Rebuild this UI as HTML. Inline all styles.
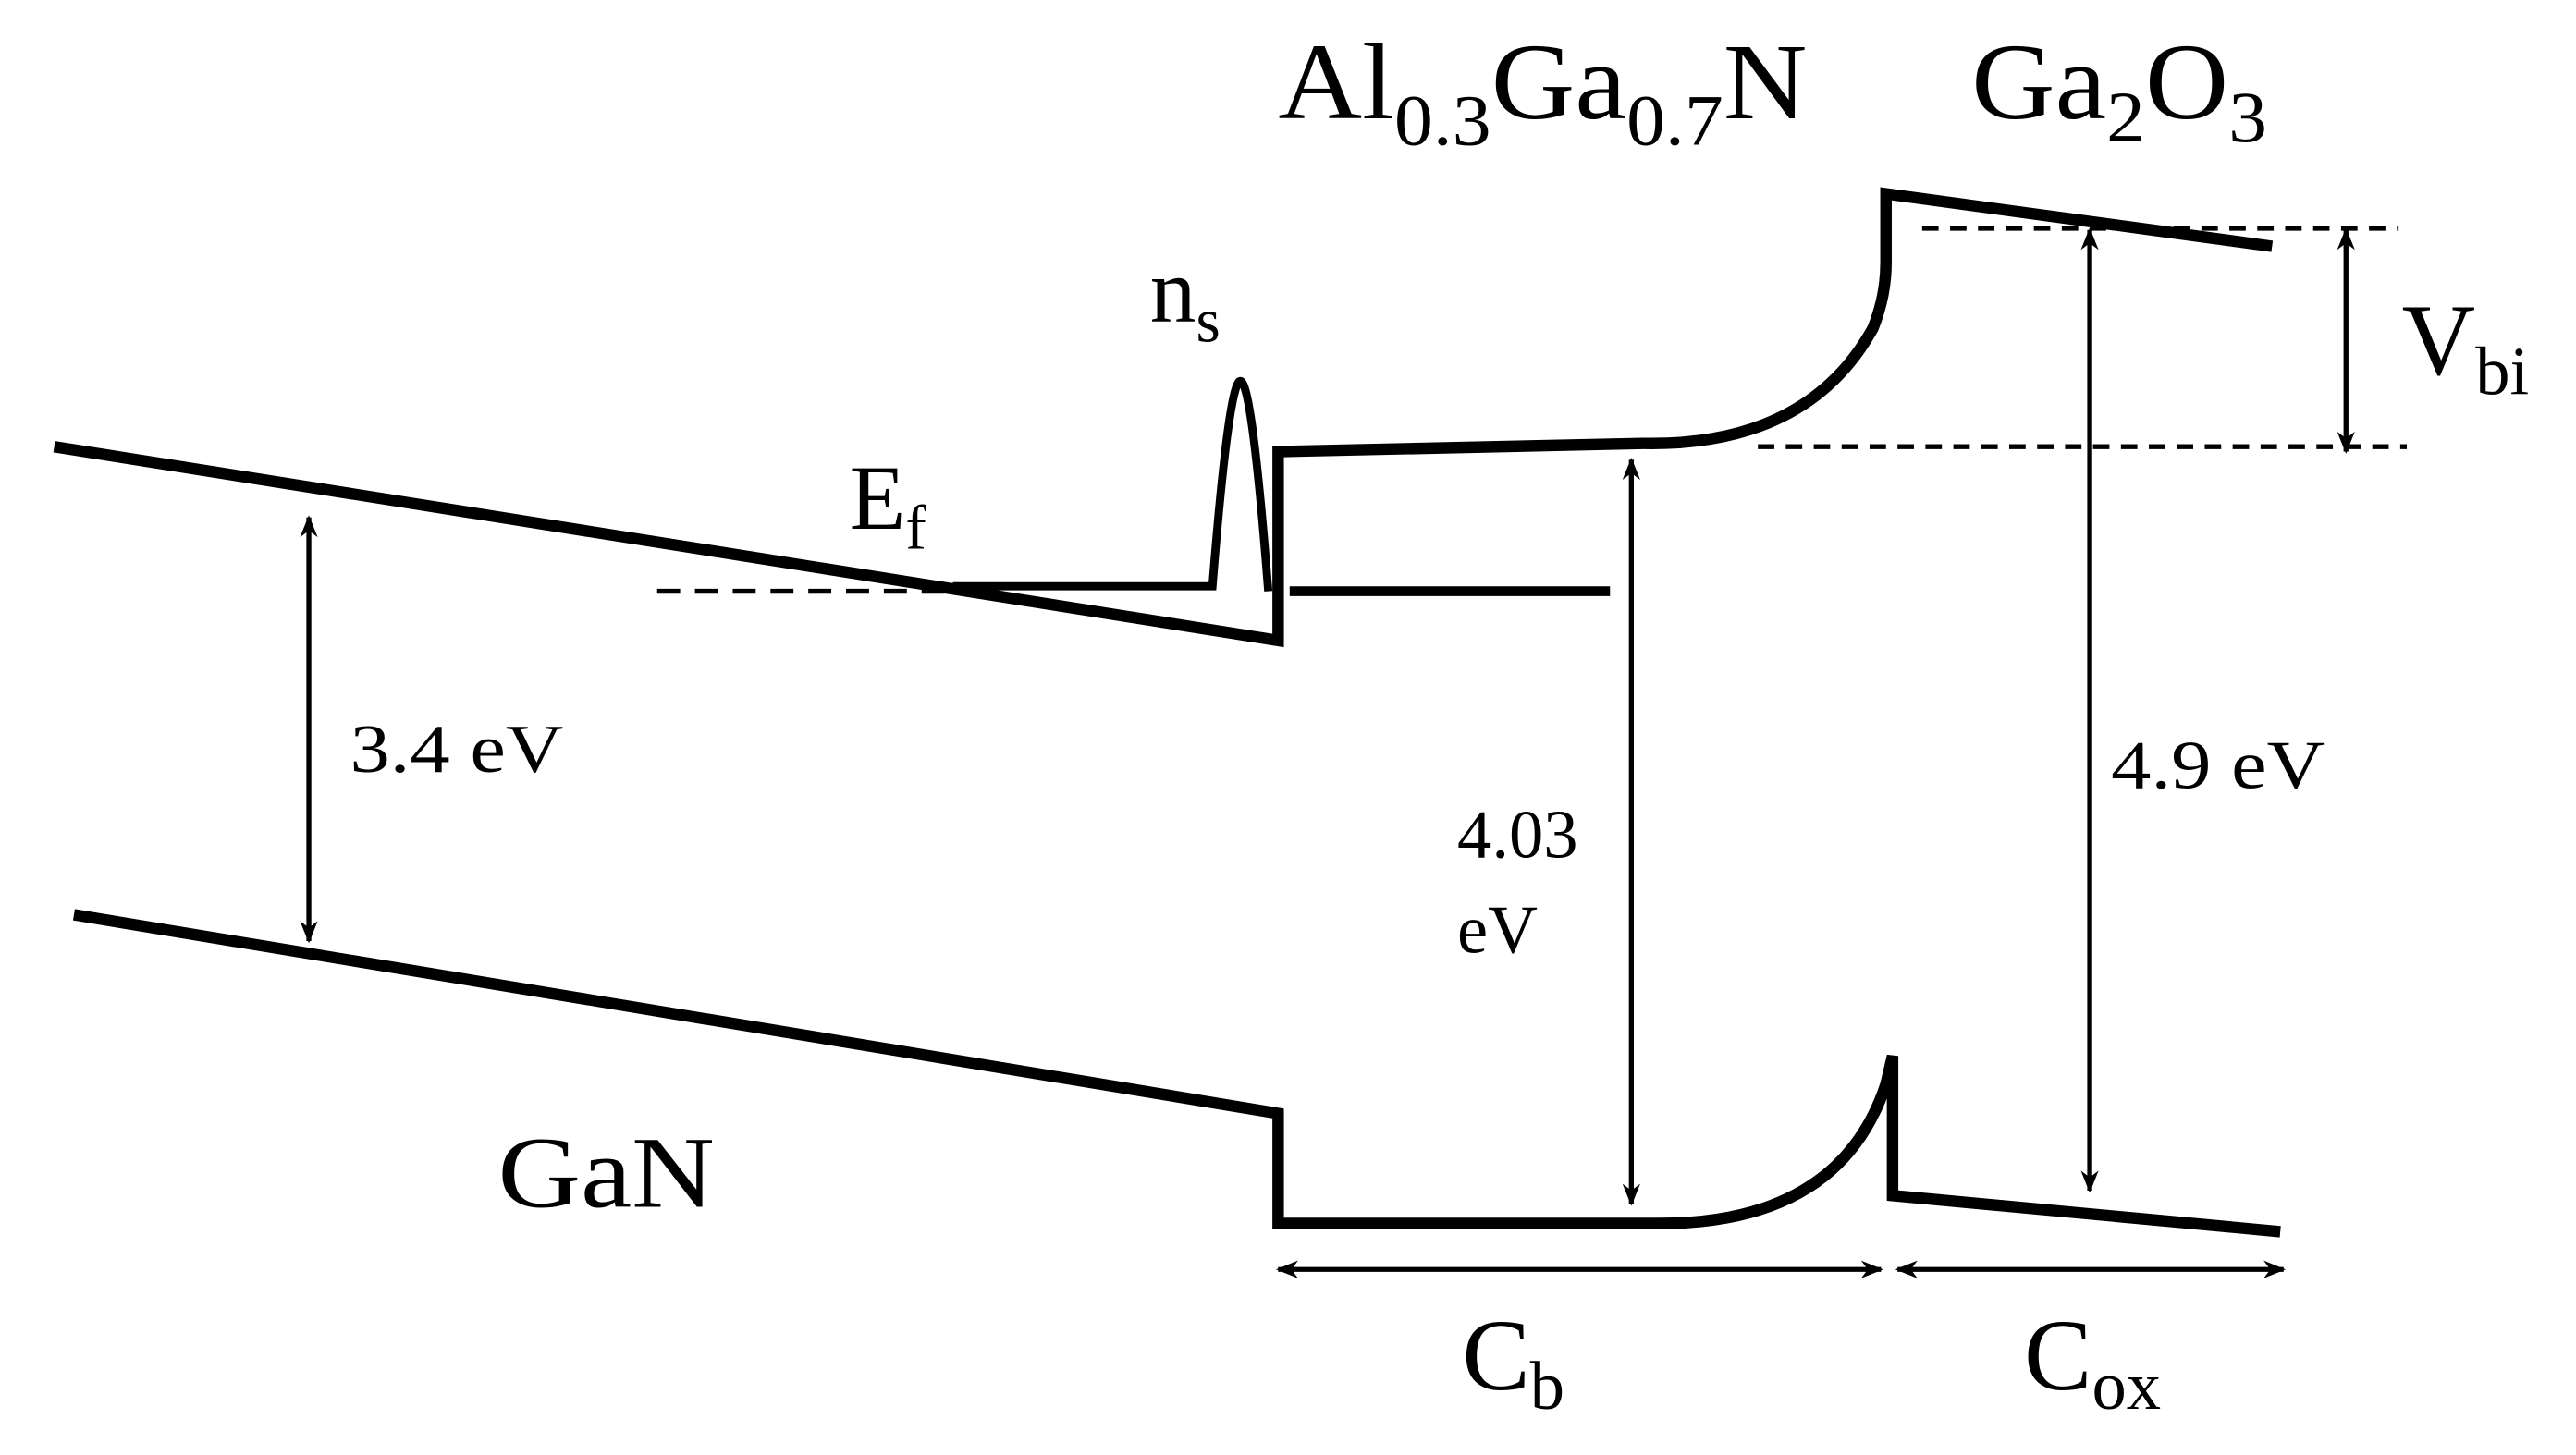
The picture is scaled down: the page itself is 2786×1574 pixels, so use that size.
<!DOCTYPE html>
<html><head><style>
html,body{margin:0;padding:0;background:#fff;}
svg{display:block;}
text{font-family:"Liberation Serif",serif;fill:#000;}
</style></head><body>
<svg width="2786" height="1574" viewBox="0 0 1568 886" preserveAspectRatio="none" xmlns="http://www.w3.org/2000/svg">
<defs>
<marker id="a" viewBox="0 0 10 10" refX="9" refY="5" markerWidth="4.5" markerHeight="4.5" orient="auto-start-reverse"><path d="M0,1 L10,5 L0,9 L3,5 z" fill="#000"/></marker>
</defs>
<g fill="none" stroke="#000" stroke-width="7" stroke-linejoin="miter">
<path d="M33,272 L778,390 L778,275 L1000,270 Q1100,272 1140,200 Q1148,180 1148,160 L1148,118 L1383,150"/>
<path d="M45,557 L778,678 L778,745 L1010,745 Q1120,745 1148,660 L1152,643 L1152,728 L1388,750"/>
<path d="M580,357 L738,357 Q748,232 755,232 Q762,232 772,360" stroke-width="5"/>
<path d="M785,360 L980,360" stroke-width="6"/>
</g>
<g stroke="#000" stroke-width="3" fill="none">
<path d="M400,360 L580,360" stroke-dasharray="14,9"/>
<path d="M1170,139 L1460,139" stroke-dasharray="10,7"/>
<path d="M1070,272 L1465,272" stroke-dasharray="10,7"/>
<line x1="188" y1="315" x2="188" y2="573" marker-start="url(#a)" marker-end="url(#a)"/>
<line x1="993" y1="280" x2="993" y2="733" marker-start="url(#a)" marker-end="url(#a)"/>
<line x1="1272" y1="140" x2="1272" y2="725" marker-start="url(#a)" marker-end="url(#a)"/>
<line x1="1428" y1="140" x2="1428" y2="275" marker-start="url(#a)" marker-end="url(#a)"/>
<line x1="778" y1="773" x2="1145" y2="773" marker-start="url(#a)" marker-end="url(#a)"/>
<line x1="1155" y1="773" x2="1390" y2="773" marker-start="url(#a)" marker-end="url(#a)"/>
</g>
<text x="778" y="72" font-size="66" textLength="322" lengthAdjust="spacingAndGlyphs">Al<tspan font-size="44" dy="16">0.3</tspan><tspan dy="-16">Ga</tspan><tspan font-size="44" dy="16">0.7</tspan><tspan dy="-16">N</tspan></text>
<text x="1200" y="72" font-size="66" textLength="180" lengthAdjust="spacingAndGlyphs">Ga<tspan font-size="44" dy="14">2</tspan><tspan dy="-14">O</tspan><tspan font-size="44" dy="14">3</tspan></text>
<text x="700" y="196" font-size="56">n<tspan font-size="38" dy="12">s</tspan></text>
<text x="517" y="322" font-size="56">E<tspan font-size="38" dy="12">f</tspan></text>
<text x="1462" y="228" font-size="62">V<tspan font-size="42" dy="12">bi</tspan></text>
<text x="213" y="470" font-size="42" textLength="130" lengthAdjust="spacingAndGlyphs">3.4 eV</text>
<text x="887" y="522" font-size="42">4.03</text>
<text x="887" y="580" font-size="42">eV</text>
<text x="1285" y="480" font-size="42" textLength="130" lengthAdjust="spacingAndGlyphs">4.9 eV</text>
<text x="303" y="735" font-size="62" textLength="132" lengthAdjust="spacingAndGlyphs">GaN</text>
<text x="890" y="846" font-size="62">C<tspan font-size="42" dy="12">b</tspan></text>
<text x="1232" y="846" font-size="62">C<tspan font-size="42" dy="12">ox</tspan></text>
</svg>
</body></html>
